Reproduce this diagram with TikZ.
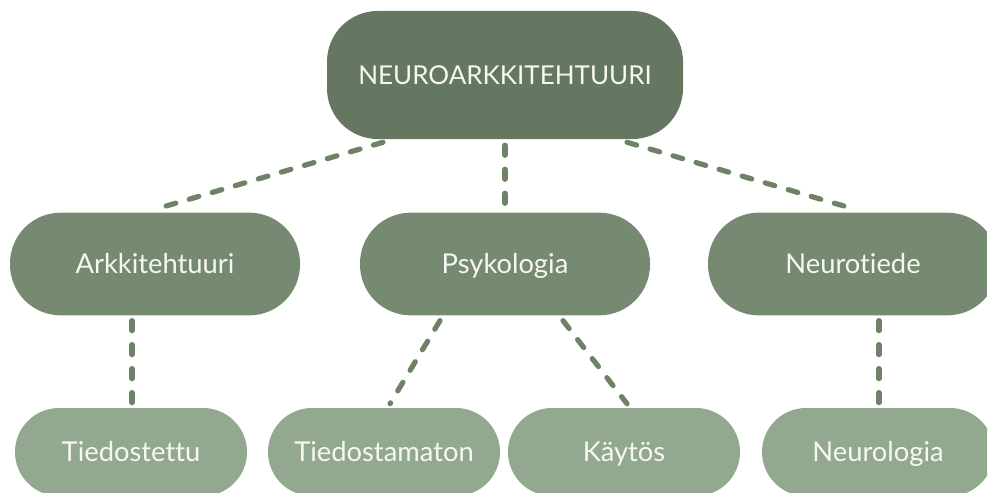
\documentclass[tikz,border=0pt]{standalone}
\usepackage{fontspec}
\setmainfont{Lato}[Ligatures=NoCommon]
\usetikzlibrary{calc}
\definecolor{topgreen}{HTML}{657661}
\definecolor{midgreen}{HTML}{758A70}
\definecolor{lowgreen}{HTML}{93A98F}
\definecolor{linkgreen}{HTML}{6E8268}
\definecolor{labelwhite}{HTML}{F7F7F0}
\begin{document}
\begin{tikzpicture}[x=0.75pt,y=-0.75pt,
  box/.style={rectangle,inner sep=0pt,text=labelwhite,text height=14.7pt,text depth=0pt,font=\fontsize{20.5}{24}\selectfont},
  rootbox/.style={box,fill=topgreen,minimum width=267pt,minimum height=96pt,rounded corners=38pt,text height=14pt,font=\fontsize{19.5}{23}\selectfont},
  midbox/.style={box,fill=midgreen,minimum width=217.5pt,minimum height=77pt,rounded corners=38pt},
  lowbox/.style={box,fill=lowgreen,minimum width=174pt,minimum height=66pt,rounded corners=33pt},
  link/.style={draw=linkgreen,line width=3.9pt,line cap=round,dash pattern=on 7.5pt off 10.5pt}]
\useasboundingbox (0,0) rectangle (987,492);
\begin{scope}
\clip (0,0) rectangle (987,492);
% top level
\node[rootbox] (root) at (505,75) {NEUROARKKITEHTUURI};
% middle level
\node[midbox] (arch) at (155,264) {Arkkitehtuuri};
\node[midbox] (psy) at (505,264) {Psykologia};
\node[midbox] (neuro) at (853,264) {Neurotiede};
% bottom level
\node[lowbox] (conscious) at (131,452) {Tiedostettu};
\node[lowbox] (uncons) at (384,452) {Tiedostamaton};
\node[lowbox] (behav) at (624,452) {Käytös};
\node[lowbox] (neurol) at (878,452) {Neurologia};
% connectors
\draw[link] ($(root.south)+(-122,3)$) -- ($(arch.north)+(3,-4)$);
\draw[link] ($(root.south)+(0,6)$) -- ($(psy.north)+(0,-4)$);
\draw[link] ($(root.south)+(122,3)$) -- ($(neuro.north)+(-1,-4)$);
\draw[link] ($(arch.south)+(-23,5)$) -- ($(conscious.north)+(1,-4)$);
\draw[link] ($(psy.south)+(-65,5)$) -- ($(uncons.north)+(6,-4)$);
\draw[link] ($(psy.south)+(58,5)$) -- ($(behav.north)+(3,-4)$);
\draw[link] ($(neuro.south)+(26,5)$) -- ($(neurol.north)+(1,-4)$);
\end{scope}
\end{tikzpicture}
\end{document}
